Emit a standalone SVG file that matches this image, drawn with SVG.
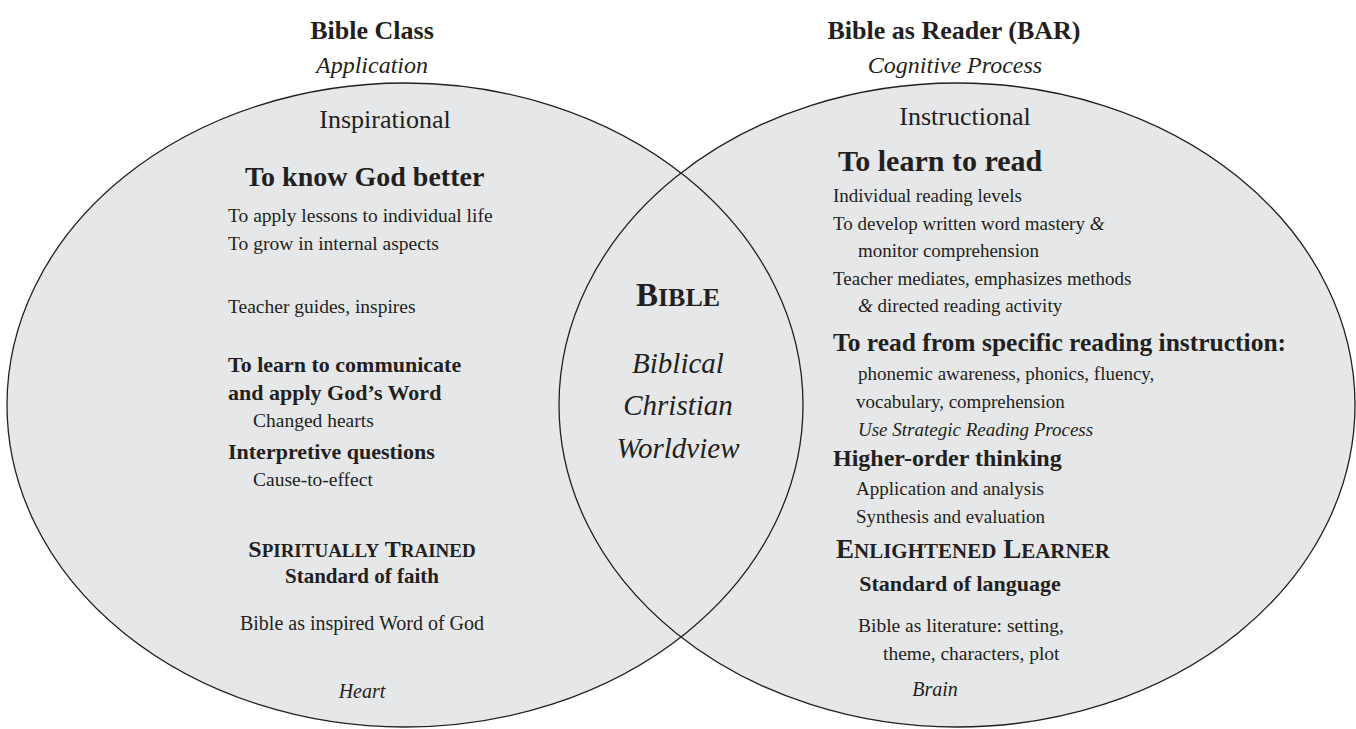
<svg xmlns="http://www.w3.org/2000/svg" width="1356" height="729" viewBox="0 0 1356 729">
  <style>
    text { font-family: "Liberation Serif", "Times New Roman", serif; fill: #231f20; }
    .b { font-weight: bold; }
    .i { font-style: italic; }
    .c { text-anchor: middle; }
    .ring { fill: #e6e7e8; stroke: none; }
    .edge { fill: none; stroke: #231f20; stroke-width: 1.3; }
  </style>

  <!-- circle fills first, both outlines on top so the overlap shows both arcs -->
  <g id="shapes">
    <ellipse class="ring" cx="405" cy="405" rx="398" ry="322"/>
    <ellipse class="ring" cx="957" cy="405" rx="398" ry="322"/>
  </g>
  <g id="connectors">
    <ellipse class="edge" cx="405" cy="405" rx="398" ry="322"/>
    <ellipse class="edge" cx="957" cy="405" rx="398" ry="322" stroke-width="1.6"/>
  </g>

  <!-- headings above the circles -->
  <g id="title-left">
    <text class="b c" x="372" y="39" font-size="26">Bible Class</text>
    <text class="i c" x="372" y="73" font-size="24">Application</text>
  </g>
  <g id="title-right">
    <text class="b c" x="954" y="39" font-size="26">Bible as Reader (BAR)</text>
    <text class="i c" x="955" y="73" font-size="24">Cognitive Process</text>
  </g>

  <!-- left circle: Bible Class -->
  <g id="node-bible-class" font-size="19.5">
    <text class="c" x="385" y="128" font-size="26">Inspirational</text>
    <text class="b" x="245" y="186" font-size="28">To know God better</text>
    <text x="228" y="222">To apply lessons to individual life</text>
    <text x="228" y="250">To grow in internal aspects</text>
    <text x="228" y="313">Teacher guides, inspires</text>
    <text class="b" x="228" y="372" font-size="22">To learn to communicate</text>
    <text class="b" x="228" y="400" font-size="22">and apply God’s Word</text>
    <text x="253" y="427">Changed hearts</text>
    <text class="b" x="228" y="459" font-size="22">Interpretive questions</text>
    <text x="253" y="486">Cause-to-effect</text>
    <text class="b c" x="362" y="557" font-size="24">S<tspan font-size="19">PIRITUALLY</tspan> T<tspan font-size="19">RAINED</tspan></text>
    <text class="b c" x="362" y="583" font-size="21">Standard of faith</text>
    <text class="c" x="362" y="630" font-size="20">Bible as inspired Word of God</text>
    <text class="i c" x="362" y="698" font-size="20">Heart</text>
  </g>

  <!-- overlap: shared centre -->
  <g id="node-bible">
    <text class="b c" x="678" y="306" font-size="33">B<tspan font-size="26">IBLE</tspan></text>
    <text class="i c" x="678" y="373" font-size="29">Biblical</text>
    <text class="i c" x="678" y="415" font-size="29">Christian</text>
    <text class="i c" x="678" y="458" font-size="29">Worldview</text>
  </g>

  <!-- right circle: Bible as Reader -->
  <g id="node-bar" font-size="19">
    <text class="c" x="965" y="125" font-size="26">Instructional</text>
    <text class="b" x="838" y="171" font-size="30">To learn to read</text>
    <text x="833" y="202">Individual reading levels</text>
    <text x="833" y="230">To develop written word mastery <tspan class="i">&amp;</tspan></text>
    <text x="858" y="257">monitor comprehension</text>
    <text x="833" y="285">Teacher mediates, emphasizes methods</text>
    <text x="858" y="312"><tspan class="i">&amp;</tspan> directed reading activity</text>
    <text class="b" x="833" y="351" font-size="25.5">To read from specific reading instruction:</text>
    <text x="858" y="380">phonemic awareness, phonics, fluency,</text>
    <text x="856" y="408">vocabulary, comprehension</text>
    <text class="i" x="858" y="436">Use Strategic Reading Process</text>
    <text class="b" x="833" y="466" font-size="24">Higher-order thinking</text>
    <text x="856" y="495">Application and analysis</text>
    <text x="856" y="523">Synthesis and evaluation</text>
    <text class="b" x="836" y="558" font-size="27">E<tspan font-size="21">NLIGHTENED</tspan> L<tspan font-size="21">EARNER</tspan></text>
    <text class="b c" x="960" y="591" font-size="22">Standard of language</text>
    <text x="858" y="632" font-size="19.5">Bible as literature: setting,</text>
    <text x="883" y="660" font-size="19.5">theme, characters, plot</text>
    <text class="i c" x="935" y="696" font-size="20">Brain</text>
  </g>
</svg>
